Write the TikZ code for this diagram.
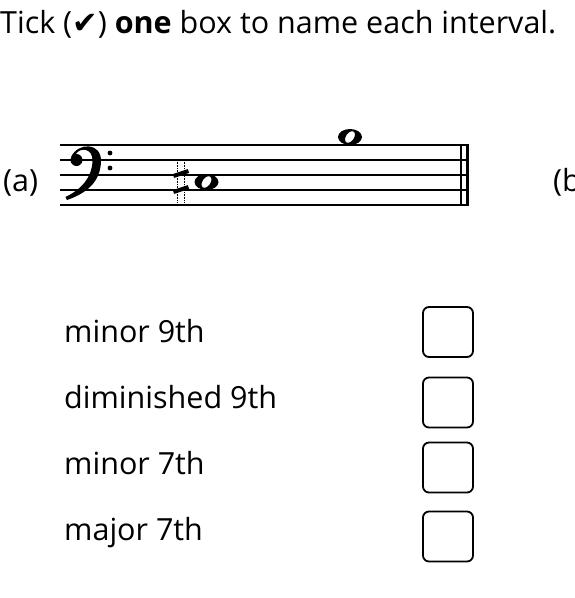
\documentclass[tikz,border=0pt]{standalone}
\usepackage{fontspec}
\setmainfont{Open Sans}
\newfontfamily\symfont{DejaVu Sans}
\usepackage{tikz}
\usetikzlibrary{positioning}
\tikzset{
  staffline/.style={line width=1.6pt},
  label/.style={anchor=base west, inner sep=0pt, font=\fontsize{30.5}{36}\selectfont},
  tickbox/.style={draw, rounded corners=6pt, minimum size=50pt, inner sep=0pt, line width=1.8pt},
  note/.style={fill, even odd rule}
}
\begin{document}
\begin{tikzpicture}[x=1pt, y=-1pt]
  \useasboundingbox (0,0) rectangle (574,598);
  \node[label] (head) at (0,33) {Tick ({\symfont ✔}) \textbf{one} box to name each interval.};
  % stave (a)
  \node[label] (a) at (3,191) {(a)};
  \node[label] (b) at (553,191) {(b)};
  \foreach \i in {0,...,4}
    \draw[staffline] (60,145+15*\i) -- (469,145+15*\i);
  \draw[line width=1.3pt] (461,145) -- (461,205);
  \draw[line width=2.8pt] (467.5,145) -- (467.5,205);
  % bass clef
  \fill (76.5,160) circle (6);
  \fill (71,157) .. controls (78,142) and (102,142) .. (101,162)
        .. controls (100,182) and (87,193) .. (67,200) -- (65.5,197)
        .. controls (82,189) and (92,177) .. (92.5,161)
        .. controls (93,148) and (80,147) .. (76,154) -- cycle;
  \fill (110,153) circle (2.4) (110,168) circle (2.4);
  % sharp + notes
  \draw[line width=0.6pt, densely dotted] (177.5,160) -- (177.5,203) (184,160) -- (184,203);
  \draw[line width=4pt] (173.5,176) -- (188.5,171) (173.5,192) -- (188.5,187);
  \path[note] (206.5,182) ellipse [x radius=12, y radius=8]
              (206.5,182) ellipse [x radius=4, y radius=6.5, rotate=-35];
  \path[note] (350,137) ellipse [x radius=12, y radius=8]
              (350,137) ellipse [x radius=4, y radius=6.5, rotate=-35];
  % choices
  \node[label] (m9) at (64,342) {minor 9th};
  \node[label] (d9) at (64,408) {diminished 9th};
  \node[label] (m7) at (64,474) {minor 7th};
  \node[label] (M7) at (64,540) {major 7th};
  \node[tickbox] (bm9) at (448,332) {};
  \node[tickbox] (bd9) at (448,402.5) {};
  \node[tickbox] (bm7) at (448,467.5) {};
  \node[tickbox] (bM7) at (448,536.5) {};
\end{tikzpicture}
\end{document}
